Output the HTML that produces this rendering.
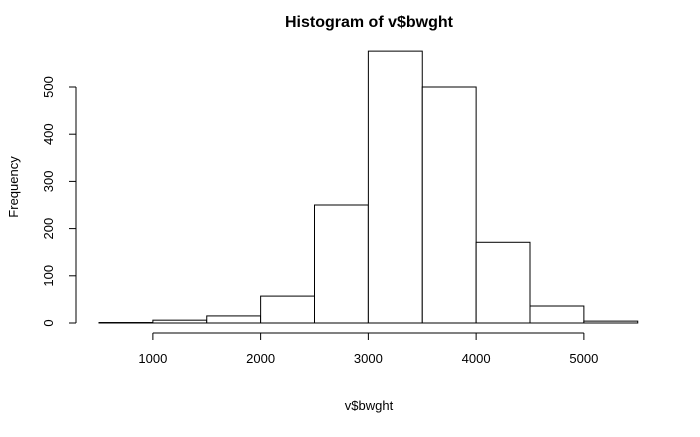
<!DOCTYPE html>
<html><head><meta charset="utf-8"><style>
body{margin:0;background:#fff;}
svg text{font-family:"Liberation Sans",Arial,sans-serif;}
</style></head><body>
<svg id="chart" width="700" height="432" xmlns="http://www.w3.org/2000/svg">
<text x="369" y="27" text-anchor="middle" font-size="16" font-weight="bold">Histogram of v$bwght</text>
<text x="369" y="410" text-anchor="middle" font-size="13">v$bwght</text>
<text transform="translate(18,187) rotate(-90)" text-anchor="middle" font-size="13">Frequency</text>
<g id="bars"></g><g id="xaxis"></g><g id="yaxis"></g>
</svg>
<script>
const binStarts=[500,1000,1500,2000,2500,3000,3500,4000,4500,5000];
const binWidth=500;
const counts=[1,6,15,57,250,576,500,171,36,4];
const xTicks=[1000,2000,3000,4000,5000];
const yTicks=[0,100,200,300,400,500];
const NS="http://www.w3.org/2000/svg";
const X=v=>99+(v-500)*0.10775;
const Y=v=>323-v*0.472;
function mk(t,a,p){const e=document.createElementNS(NS,t);for(const k in a)e.setAttribute(k,a[k]);p.appendChild(e);return e;}
const bars=document.getElementById('bars');
binStarts.forEach((s,i)=>{
 const r=mk('rect',{x:X(s),y:Y(counts[i]),width:X(s+binWidth)-X(s),height:Y(0)-Y(counts[i]),fill:'#fff',stroke:'#000','stroke-width':1},bars);
 
 
});
const xa=document.getElementById('xaxis');
mk('line',{x1:X(1000),x2:X(5000),y1:333,y2:333,stroke:'#000'},xa);
xTicks.forEach(t=>{
 mk('line',{x1:X(t),x2:X(t),y1:333,y2:340,stroke:'#000'},xa);
 const tx=mk('text',{x:X(t),y:363,'text-anchor':'middle','font-size':13},xa);tx.textContent=t;
 
 
});
const ya=document.getElementById('yaxis');
mk('line',{x1:76,x2:76,y1:Y(0),y2:Y(500),stroke:'#000'},ya);
yTicks.forEach(t=>{
 mk('line',{x1:69,x2:76,y1:Y(t),y2:Y(t),stroke:'#000'},ya);
 const tx=mk('text',{transform:`translate(53,${Y(t)}) rotate(-90)`,'text-anchor':'middle','font-size':13},ya);tx.textContent=t;
 
 
});
</script>
</body></html>
